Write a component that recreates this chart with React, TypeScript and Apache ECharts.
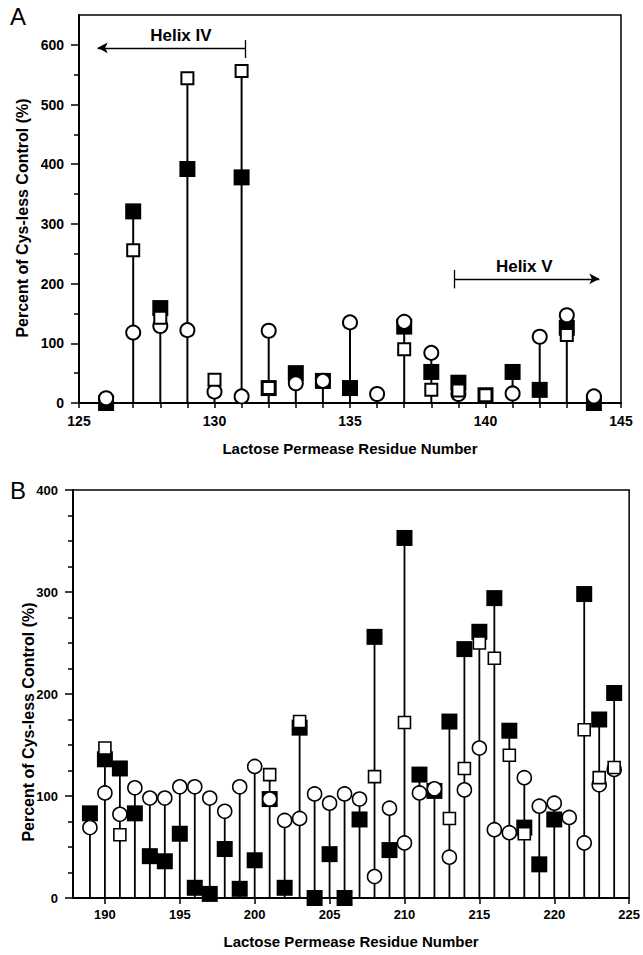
import React, { useEffect, useRef } from "react";
import * as echarts from "echarts";

// Panel A (residues 126–144)
const residuesA = [126, 127, 128, 129, 130, 131, 132, 133, 134, 135, 136, 137, 138, 139, 140, 141, 142, 143, 144];
const filledA = [0, 321, 159, 392, null, 378, 25, 50, 37, 25, null, 128, 52, 34, 13, 52, 22, 126, 0];
const openSquareA = [null, 256, 143, 544, 39, 556, 25, null, null, null, null, 90, 22, 21, 13, null, null, 114, null];
const circleA = [8, 118, 129, 122, 19, 11, 121, 33, 37, 135, 15, 136, 84, 15, null, 16, 111, 147, 11];

// Panel B (residues 189–224)
const residuesB = [189, 190, 191, 192, 193, 194, 195, 196, 197, 198, 199, 200, 201, 202, 203, 204, 205, 206, 207, 208, 209, 210, 211, 212, 213, 214, 215, 216, 217, 218, 219, 220, 221, 222, 223, 224];
const filledB = [83, 136, 127, 83, 41, 36, 63, 10, 4, 48, 9, 37, 97, 10, 167, 0, 43, 0, 77, 256, 47, 353, 121, 105, 173, 244, 261, 294, 164, 69, 33, 77, null, 298, 175, 201];
const openSquareB = [null, 147, 62, null, null, null, null, null, null, null, null, null, 121, null, 173, null, null, null, null, 119, null, 172, null, null, 78, 127, 250, 235, 140, 63, null, null, null, 165, 118, 128];
const circleB = [69, 103, 82, 108, 98, 98, 109, 109, 98, 85, 109, 129, 97, 76, 78, 102, 93, 102, 97, 21, 88, 54, 103, 107, 40, 106, 147, 67, 64, 118, 90, 93, 79, 54, 111, 126];

// Tick labels
const xTicksA = [125, 130, 135, 140, 145];
const yTicksA = [0, 100, 200, 300, 400, 500, 600];
const yMinorA = [50, 150, 250, 350, 450, 550];
const xTicksB = [190, 195, 200, 205, 210, 215, 220, 225];

const FONT = "'Liberation Sans', Arial, sans-serif";

function pairs(res: number[], vals: (number | null)[]) {
  const out: number[][] = [];
  res.forEach((r, i) => {
    const v = vals[i];
    if (v !== null && v !== undefined) out.push([r, v]);
  });
  return out;
}

function stems(res: number[], ...sets: (number | null)[][]) {
  return res.map((r, i) => {
    const vs = sets.map((s) => s[i]).filter((v) => v !== null && v !== undefined) as number[];
    return [r, vs.length ? Math.max(...vs) : 0];
  });
}

function stemSeries(idx: number, data: number[][], width: number) {
  return {
    type: "custom",
    xAxisIndex: idx,
    yAxisIndex: idx === 0 ? 0 : 2,
    silent: true,
    data,
    renderItem: (_p: any, api: any) => {
      const x = api.value(0);
      const y = api.value(1);
      const p0 = api.coord([x, 0]);
      const p1 = api.coord([x, y]);
      return {
        type: "line",
        shape: { x1: p0[0], y1: p0[1], x2: p1[0], y2: p1[1] },
        style: { stroke: "#000", lineWidth: width },
      };
    },
  };
}

function markSeries(idx: number, data: number[][], kind: "filled" | "open" | "circle", sizes: { f: number; o: number; c: number }, bw: number, extra: any = {}) {
  const base: any = {
    type: "scatter",
    xAxisIndex: idx,
    yAxisIndex: idx === 0 ? 0 : 2,
    data,
    silent: true,
    emphasis: { disabled: true },
  };
  if (kind === "filled") {
    base.symbol = "rect";
    base.symbolSize = sizes.f;
    base.itemStyle = { color: "#000", opacity: 1 };
  } else if (kind === "open") {
    base.symbol = "rect";
    base.symbolSize = sizes.o;
    base.itemStyle = { color: "#fff", borderColor: "#000", borderWidth: bw, opacity: 1 };
  } else {
    base.symbol = "circle";
    base.symbolSize = sizes.c;
    base.itemStyle = { color: "#fff", borderColor: "#000", borderWidth: bw, opacity: 1 };
  }
  return { ...base, ...extra };
}

export default function App() {
  const ref = useRef<HTMLDivElement>(null);

  useEffect(() => {
    document.body.style.margin = "0";
    if (!ref.current) return;
    const chart = echarts.init(ref.current, null, { renderer: "svg" });

    const sizesA = { f: 16, o: 12, c: 14 };
    const sizesB = { f: 16, o: 12, c: 14 };

    const helixLines = {
      silent: true,
      symbol: ["none", "none"],
      symbolSize: [8, 10],
      label: { show: false },
      lineStyle: { color: "#000", width: 1.3, type: "solid", opacity: 1 },
      emphasis: { disabled: true },
      animation: false,
      data: [
        [{ coord: [125.69, 595], symbol: "arrow" }, { coord: [131.15, 595], symbol: "none" }],
        [{ coord: [131.15, 608] }, { coord: [131.15, 578] }],
        [{ coord: [138.85, 208], symbol: "none" }, { coord: [144.2, 208], symbol: "arrow" }],
        [{ coord: [138.85, 223] }, { coord: [138.85, 192] }],
      ],
    };

    const tickLabel = { color: "#000", fontFamily: FONT, fontWeight: "bold" as const };

    const option: any = {
      animation: false,
      backgroundColor: "#fff",
      grid: [
        { left: 79, top: 15, width: 542, height: 388, show: true, borderColor: "#000", borderWidth: 1.5, backgroundColor: "transparent" },
        { left: 73, top: 490, width: 557, height: 408, show: true, borderColor: "#000", borderWidth: 1.5, backgroundColor: "transparent" },
      ],
      xAxis: [
        {
          type: "value",
          gridIndex: 0,
          min: 125,
          max: 145,
          interval: 5,
          name: "Lactose Permease Residue Number",
          nameLocation: "middle",
          nameGap: 38,
          nameTextStyle: { ...tickLabel, fontSize: 15 },
          axisLine: { show: true, onZero: false, lineStyle: { color: "#000", width: 2 } },
          axisTick: { show: true, inside: false, length: 5, customValues: xTicksA, lineStyle: { color: "#000", width: 1.5 } },
          minorTick: { show: true, splitNumber: 5, length: 5, lineStyle: { color: "#000", width: 1.5 } },
          axisLabel: { ...tickLabel, fontSize: 14, margin: 11, customValues: xTicksA },
          splitLine: { show: false },
          minorSplitLine: { show: false },
        },
        {
          type: "value",
          gridIndex: 1,
          min: 187.87,
          max: 225,
          name: "Lactose Permease Residue Number",
          nameLocation: "middle",
          nameGap: 36,
          nameTextStyle: { ...tickLabel, fontSize: 15 },
          axisLine: { show: true, onZero: false, lineStyle: { color: "#000", width: 2 } },
          axisTick: { show: true, inside: false, length: 6, customValues: xTicksB, lineStyle: { color: "#000", width: 1.5 } },
          axisLabel: { ...tickLabel, fontSize: 13, margin: 10, customValues: xTicksB },
          splitLine: { show: false },
        },
      ],
      yAxis: [
        {
          type: "value",
          gridIndex: 0,
          min: 0,
          max: 650,
          axisLine: { show: true, onZero: false, lineStyle: { color: "#000", width: 2 } },
          axisTick: { show: true, inside: false, length: 8, customValues: yTicksA, lineStyle: { color: "#000", width: 1.5 } },
          axisLabel: { ...tickLabel, fontSize: 14, margin: 15, customValues: yTicksA },
          splitLine: { show: false },
        },
        {
          type: "value",
          gridIndex: 0,
          position: "left",
          min: 0,
          max: 650,
          axisLine: { show: false },
          axisTick: { show: true, inside: false, length: 5, customValues: yMinorA, lineStyle: { color: "#000", width: 1.5 } },
          axisLabel: { show: false },
          splitLine: { show: false },
        },
        {
          type: "value",
          gridIndex: 1,
          min: 0,
          max: 400,
          interval: 100,
          axisLine: { show: true, onZero: false, lineStyle: { color: "#000", width: 2 } },
          axisTick: { show: true, inside: false, length: 8, lineStyle: { color: "#000", width: 1.5 } },
          minorTick: { show: true, splitNumber: 4, length: 5, lineStyle: { color: "#000", width: 1.5 } },
          axisLabel: { ...tickLabel, fontSize: 13, margin: 15 },
          splitLine: { show: false },
          minorSplitLine: { show: false },
        },
      ],
      series: [
        stemSeries(0, stems(residuesA, filledA, openSquareA, circleA), 2),
        markSeries(0, pairs(residuesA, filledA), "filled", sizesA, 2, { markLine: helixLines }),
        markSeries(0, pairs(residuesA, circleA), "circle", sizesA, 2),
        markSeries(0, pairs(residuesA, openSquareA), "open", sizesA, 2),
        stemSeries(1, stems(residuesB, filledB, openSquareB, circleB), 1.8),
        markSeries(1, pairs(residuesB, filledB), "filled", sizesB, 1.6),
        markSeries(1, pairs(residuesB, circleB), "circle", sizesB, 1.6),
        markSeries(1, pairs(residuesB, openSquareB), "open", sizesB, 1.6),
      ],
    };

    chart.setOption(option);

    const p4 = chart.convertToPixel({ gridIndex: 0 }, [128.76, 595]) as number[];
    const p5 = chart.convertToPixel({ gridIndex: 0 }, [141.43, 208]) as number[];

    chart.setOption({
      graphic: [
        { type: "text", left: 10, top: 4, style: { text: "A", fontSize: 24, fontFamily: FONT, fill: "#000" } },
        { type: "text", left: 10, top: 478, style: { text: "B", fontSize: 24, fontFamily: FONT, fill: "#000" } },
        {
          type: "text",
          x: p4[0],
          y: p4[1] - 4,
          style: { text: "Helix IV", fontSize: 17, fontWeight: "bold", fontFamily: FONT, fill: "#000", align: "center", verticalAlign: "bottom" },
        },
        {
          type: "text",
          x: p5[0],
          y: p5[1] - 4,
          style: { text: "Helix V", fontSize: 17, fontWeight: "bold", fontFamily: FONT, fill: "#000", align: "center", verticalAlign: "bottom" },
        },
        {
          type: "text",
          x: 22,
          y: 218,
          rotation: Math.PI / 2,
          style: { text: "Percent of Cys-less Control (%)", fontSize: 16, fontWeight: "bold", fontFamily: FONT, fill: "#000", align: "center", verticalAlign: "middle" },
        },
        {
          type: "text",
          x: 28,
          y: 722,
          rotation: Math.PI / 2,
          style: { text: "Percent of Cys-less Control (%)", fontSize: 16, fontWeight: "bold", fontFamily: FONT, fill: "#000", align: "center", verticalAlign: "middle" },
        },
      ],
    });

    return () => chart.dispose();
  }, []);

  return <div ref={ref} style={{ width: 643, height: 955 }} />;
}
